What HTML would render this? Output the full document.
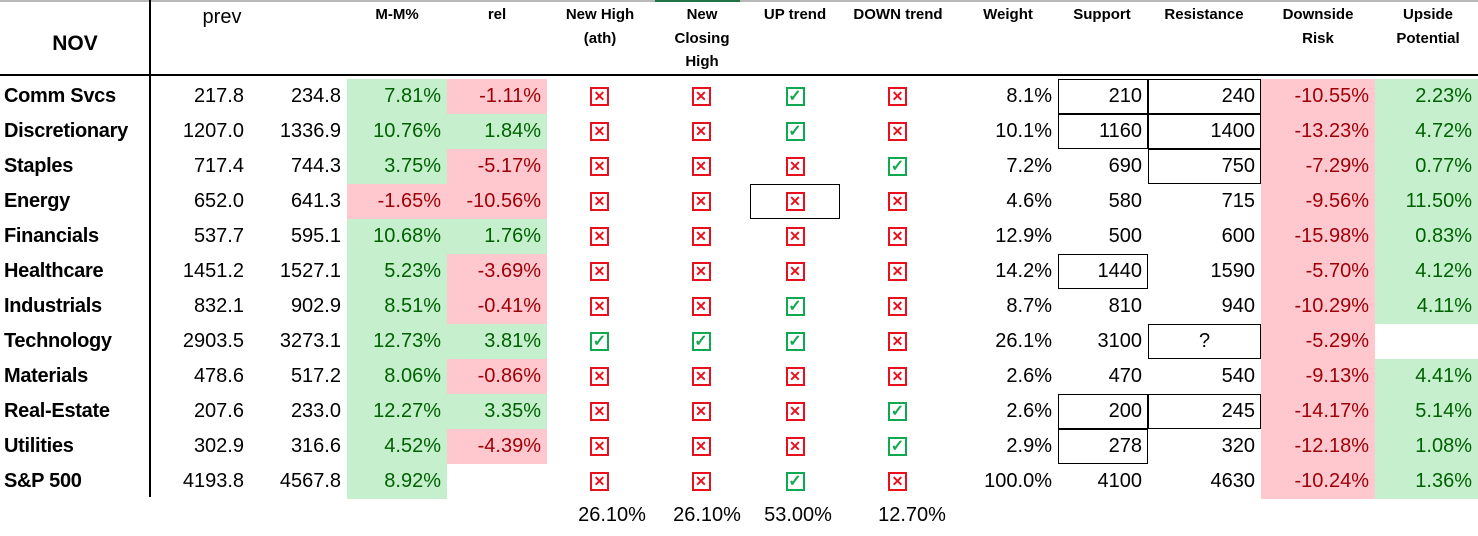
<!DOCTYPE html>
<html><head><meta charset="utf-8"><style>
body{margin:0;width:1478px;height:536px;background:#fff;position:relative;overflow:hidden;font-family:"Liberation Sans",Arial,sans-serif;color:#000}
.h{position:absolute;font-weight:bold;font-size:15px;text-align:center;line-height:23.5px;transform:translateX(-50%);white-space:nowrap}
table{position:absolute;left:0;top:78.5px;border-collapse:collapse;table-layout:fixed;width:1478px}
td{height:35px;padding:0 6px 0 0;font-size:20px;text-align:right;white-space:nowrap;overflow:hidden;box-sizing:border-box;border:0}
td.n{font-weight:bold;text-align:left;padding-left:4px;font-size:20px;letter-spacing:-0.3px}
td.c{text-align:center;padding:0}
.g{background:#c6efce;color:#006100}
.r{background:#ffc7ce;color:#9c0006}
.b{box-shadow:inset 0 0 0 1px #000, 0 0 0 0.5px #000}
.x,.v{display:inline-block;width:15px;height:15px;border:2px solid #e8101c;position:relative;vertical-align:middle;line-height:15px;font-size:14px;font-weight:bold;color:#e8101c;text-align:center}
.v{border-color:#10a850;color:#10a850;font-size:16px}
.t{position:absolute;top:504px;font-size:20px;transform:translateX(-50%)}
</style></head><body>
<div style="position:absolute;left:0;top:0;width:1478px;height:2px;background:#b8b8b8"></div>
<div style="position:absolute;left:655px;top:0;width:85px;height:2px;background:#217346"></div>
<div style="position:absolute;left:0;top:74px;width:1478px;height:1.5px;background:#000"></div>
<div style="position:absolute;left:149px;top:0;width:1.5px;height:497px;background:#000"></div>
<div class="h" style="left:75px;top:32px;font-size:21px">NOV</div>
<div class="h" style="left:222px;top:6px;font-size:20px;font-weight:normal">prev</div>
<div class="h" style="left:397px;top:3px">M-M%</div>
<div class="h" style="left:497px;top:3px">rel</div>
<div class="h" style="left:600px;top:3px">New High<br>(ath)</div>
<div class="h" style="left:702px;top:3px">New<br>Closing<br>High</div>
<div class="h" style="left:795px;top:3px">UP trend</div>
<div class="h" style="left:898px;top:3px">DOWN trend</div>
<div class="h" style="left:1008px;top:3px">Weight</div>
<div class="h" style="left:1102px;top:3px">Support</div>
<div class="h" style="left:1204px;top:3px">Resistance</div>
<div class="h" style="left:1318px;top:3px">Downside<br>Risk</div>
<div class="h" style="left:1428px;top:3px">Upside<br>Potential</div>
<table>
<colgroup><col style="width:150px"><col style="width:100px"><col style="width:97px"><col style="width:100px"><col style="width:100px"><col style="width:105px"><col style="width:98px"><col style="width:90px"><col style="width:115px"><col style="width:103px"><col style="width:90px"><col style="width:113px"><col style="width:114px"><col style="width:103px"></colgroup>
<tr><td class="n">Comm Svcs</td><td>217.8</td><td>234.8</td><td class="g">7.81%</td><td class="r">-1.11%</td><td class="c"><span class="x">✕</span></td><td class="c"><span class="x">✕</span></td><td class="c"><span class="v">✓</span></td><td class="c"><span class="x">✕</span></td><td>8.1%</td><td class="b">210</td><td class="b">240</td><td class="r">-10.55%</td><td class="g">2.23%</td></tr>
<tr><td class="n">Discretionary</td><td>1207.0</td><td>1336.9</td><td class="g">10.76%</td><td class="g">1.84%</td><td class="c"><span class="x">✕</span></td><td class="c"><span class="x">✕</span></td><td class="c"><span class="v">✓</span></td><td class="c"><span class="x">✕</span></td><td>10.1%</td><td class="b">1160</td><td class="b">1400</td><td class="r">-13.23%</td><td class="g">4.72%</td></tr>
<tr><td class="n">Staples</td><td>717.4</td><td>744.3</td><td class="g">3.75%</td><td class="r">-5.17%</td><td class="c"><span class="x">✕</span></td><td class="c"><span class="x">✕</span></td><td class="c"><span class="x">✕</span></td><td class="c"><span class="v">✓</span></td><td>7.2%</td><td>690</td><td class="b">750</td><td class="r">-7.29%</td><td class="g">0.77%</td></tr>
<tr><td class="n">Energy</td><td>652.0</td><td>641.3</td><td class="r">-1.65%</td><td class="r">-10.56%</td><td class="c"><span class="x">✕</span></td><td class="c"><span class="x">✕</span></td><td class="c b"><span class="x">✕</span></td><td class="c"><span class="x">✕</span></td><td>4.6%</td><td>580</td><td>715</td><td class="r">-9.56%</td><td class="g">11.50%</td></tr>
<tr><td class="n">Financials</td><td>537.7</td><td>595.1</td><td class="g">10.68%</td><td class="g">1.76%</td><td class="c"><span class="x">✕</span></td><td class="c"><span class="x">✕</span></td><td class="c"><span class="x">✕</span></td><td class="c"><span class="x">✕</span></td><td>12.9%</td><td>500</td><td>600</td><td class="r">-15.98%</td><td class="g">0.83%</td></tr>
<tr><td class="n">Healthcare</td><td>1451.2</td><td>1527.1</td><td class="g">5.23%</td><td class="r">-3.69%</td><td class="c"><span class="x">✕</span></td><td class="c"><span class="x">✕</span></td><td class="c"><span class="x">✕</span></td><td class="c"><span class="x">✕</span></td><td>14.2%</td><td class="b">1440</td><td>1590</td><td class="r">-5.70%</td><td class="g">4.12%</td></tr>
<tr><td class="n">Industrials</td><td>832.1</td><td>902.9</td><td class="g">8.51%</td><td class="r">-0.41%</td><td class="c"><span class="x">✕</span></td><td class="c"><span class="x">✕</span></td><td class="c"><span class="v">✓</span></td><td class="c"><span class="x">✕</span></td><td>8.7%</td><td>810</td><td>940</td><td class="r">-10.29%</td><td class="g">4.11%</td></tr>
<tr><td class="n">Technology</td><td>2903.5</td><td>3273.1</td><td class="g">12.73%</td><td class="g">3.81%</td><td class="c"><span class="v">✓</span></td><td class="c"><span class="v">✓</span></td><td class="c"><span class="v">✓</span></td><td class="c"><span class="x">✕</span></td><td>26.1%</td><td>3100</td><td class="b c">?</td><td class="r">-5.29%</td><td></td></tr>
<tr><td class="n">Materials</td><td>478.6</td><td>517.2</td><td class="g">8.06%</td><td class="r">-0.86%</td><td class="c"><span class="x">✕</span></td><td class="c"><span class="x">✕</span></td><td class="c"><span class="x">✕</span></td><td class="c"><span class="x">✕</span></td><td>2.6%</td><td>470</td><td>540</td><td class="r">-9.13%</td><td class="g">4.41%</td></tr>
<tr><td class="n">Real-Estate</td><td>207.6</td><td>233.0</td><td class="g">12.27%</td><td class="g">3.35%</td><td class="c"><span class="x">✕</span></td><td class="c"><span class="x">✕</span></td><td class="c"><span class="x">✕</span></td><td class="c"><span class="v">✓</span></td><td>2.6%</td><td class="b">200</td><td class="b">245</td><td class="r">-14.17%</td><td class="g">5.14%</td></tr>
<tr><td class="n">Utilities</td><td>302.9</td><td>316.6</td><td class="g">4.52%</td><td class="r">-4.39%</td><td class="c"><span class="x">✕</span></td><td class="c"><span class="x">✕</span></td><td class="c"><span class="x">✕</span></td><td class="c"><span class="v">✓</span></td><td>2.9%</td><td class="b">278</td><td>320</td><td class="r">-12.18%</td><td class="g">1.08%</td></tr>
<tr><td class="n">S&amp;P 500</td><td>4193.8</td><td>4567.8</td><td class="g">8.92%</td><td></td><td class="c"><span class="x">✕</span></td><td class="c"><span class="x">✕</span></td><td class="c"><span class="v">✓</span></td><td class="c"><span class="x">✕</span></td><td>100.0%</td><td>4100</td><td>4630</td><td class="r">-10.24%</td><td class="g">1.36%</td></tr>
</table>
<div class="t" style="left:612px">26.10%</div>
<div class="t" style="left:707px">26.10%</div>
<div class="t" style="left:798px">53.00%</div>
<div class="t" style="left:912px">12.70%</div>
</body></html>
